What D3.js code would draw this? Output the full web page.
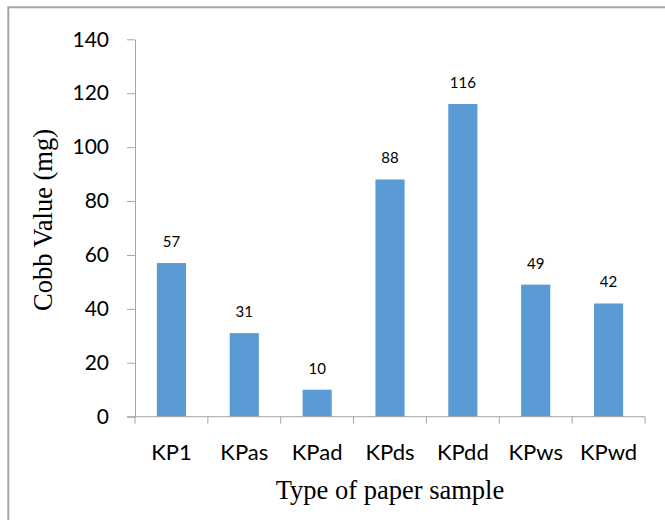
<!DOCTYPE html>
<html>
<head>
<meta charset="utf-8">
<script src="https://cdn.jsdelivr.net/npm/d3@7"></script>
<style>
  html, body { margin: 0; padding: 0; background: #fff; }
  svg { display: block; }
</style>
</head>
<body>
<svg id="chart" width="665" height="520"></svg>
<script>
// Cobb values per paper sample
const categories = ["KP1", "KPas", "KPad", "KPds", "KPdd", "KPws", "KPwd"];
const cobbValues = [57, 31, 10, 88, 116, 49, 42];
const yTicks = [0, 20, 40, 60, 80, 100, 120, 140];

const svg = d3.select("#chart");
const W = 665, H = 520;
const margin = { left: 135, right: 20, top: 39.3, bottom: 103.3 };
const axisColor = "#a6a6a6";
const barColor = "#5b9bd5";
const sansFont = "Lato, 'Open Sans', sans-serif";
const serifFont = "'Liberation Serif', 'DejaVu Serif', serif";

// outer frame (top and left edges)
svg.append("path")
  .attr("d", `M8.3,${H} V7.2 H${W}`)
  .attr("fill", "none")
  .attr("stroke", axisColor)
  .attr("stroke-width", 2);

const x = d3.scaleBand()
  .domain(categories)
  .range([margin.left, W - margin.right])
  .paddingInner(0.6)
  .paddingOuter(0.3);

const y = d3.scaleLinear()
  .domain([0, 140])
  .range([H - margin.bottom, margin.top]);

// bars
svg.append("g").selectAll("rect")
  .data(categories.map((c, i) => ({ c, v: cobbValues[i] })))
  .join("rect")
  .attr("x", d => x(d.c))
  .attr("width", x.bandwidth())
  .attr("y", d => y(d.v))
  .attr("height", d => y(0) - y(d.v))
  .attr("fill", barColor);

// value labels
svg.append("g").selectAll("text")
  .data(categories.map((c, i) => ({ c, v: cobbValues[i] })))
  .join("text")
  .attr("x", d => x(d.c) + x.bandwidth() / 2)
  .attr("y", d => y(d.v) - 16)
  .attr("text-anchor", "middle")
  .attr("font-family", sansFont)
  .attr("font-size", 15)
  .attr("fill", "#000")
  .text(d => d.v);

// y axis
const yAxis = svg.append("g")
  .attr("transform", `translate(${margin.left},0)`)
  .call(d3.axisLeft(y).tickValues(yTicks).tickSize(8).tickSizeOuter(0).tickPadding(18));
yAxis.select(".domain").attr("stroke", axisColor);
yAxis.selectAll(".tick line").attr("stroke", axisColor);
yAxis.selectAll(".tick text")
  .attr("font-family", sansFont)
  .attr("font-size", 21)
  .attr("fill", "#000");

// x axis: baseline with ticks at category boundaries
const x0 = y(0);
const step = x.step();
const xStart = margin.left;
const xEnd = W - margin.right;
const xAxis = svg.append("g");
xAxis.append("line")
  .attr("x1", margin.left - 8).attr("x2", xEnd)
  .attr("y1", x0).attr("y2", x0)
  .attr("stroke", axisColor);
xAxis.selectAll("line.bound")
  .data(d3.range(categories.length + 1))
  .join("line")
  .attr("class", "bound")
  .attr("x1", i => xStart + i * step).attr("x2", i => xStart + i * step)
  .attr("y1", x0).attr("y2", x0 + 7)
  .attr("stroke", axisColor);
xAxis.selectAll("text")
  .data(categories)
  .join("text")
  .attr("x", c => x(c) + x.bandwidth() / 2)
  .attr("y", 460)
  .attr("text-anchor", "middle")
  .attr("font-family", sansFont)
  .attr("font-size", 22)
  .attr("fill", "#000")
  .text(c => c);

// axis titles
svg.append("text")
  .attr("x", 390)
  .attr("y", 499)
  .attr("text-anchor", "middle")
  .attr("font-family", serifFont)
  .attr("font-size", 26.5)
  .attr("fill", "#000")
  .text("Type of paper sample");

svg.append("text")
  .attr("transform", "translate(52,220) rotate(-90)")
  .attr("text-anchor", "middle")
  .attr("font-family", serifFont)
  .attr("font-size", 26.5)
  .attr("fill", "#000")
  .text("Cobb Value (mg)");
</script>
</body>
</html>
